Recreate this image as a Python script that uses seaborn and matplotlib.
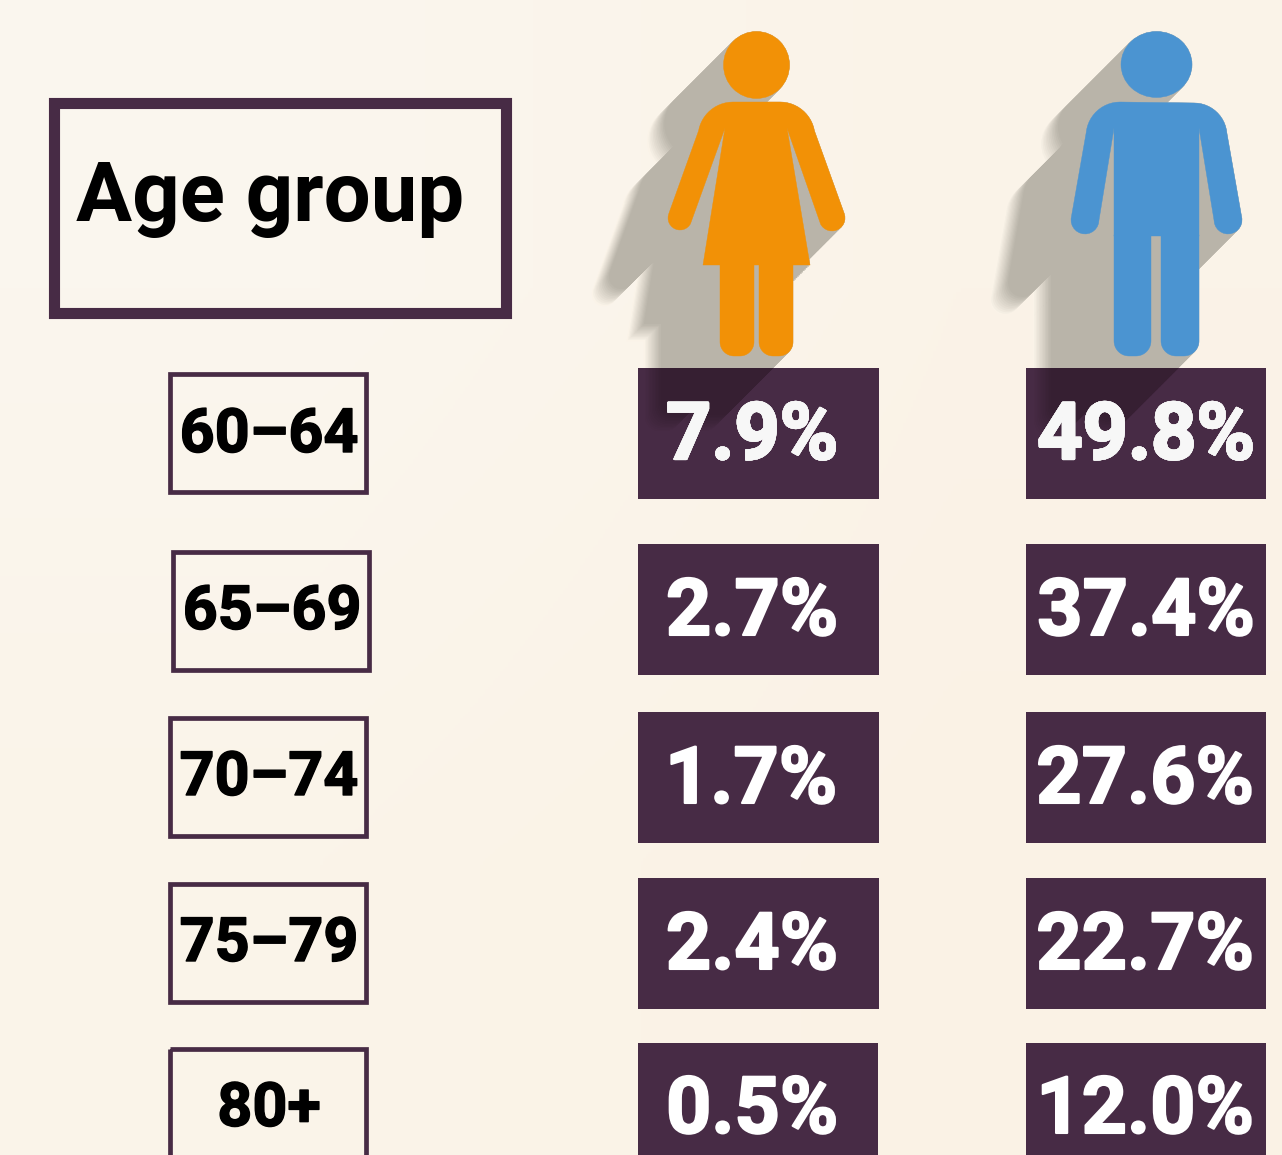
import numpy as np
import matplotlib
matplotlib.use("Agg")
import matplotlib.pyplot as plt
import matplotlib.patheffects as pe
from matplotlib.colors import to_rgb
from matplotlib.patches import Ellipse, Polygon, Rectangle
from matplotlib.path import Path
import seaborn as sns

# data
age_groups = ["60–64", "65–69", "70–74", "75–79", "80+"]
women = ["7.9%", "2.7%", "1.7%", "2.4%", "0.5%"]
men = ["49.8%", "37.4%", "27.6%", "22.7%", "12.0%"]
header = "Age group"

# colours
PLUM = "#472B45"
PLUM_DARK = "#361F32"
ORANGE = "#F29106"
BLUE = "#4B94D1"
SHADOW = "#B9B4A9"
BG = "#FAF3E8"

# layout in pixels of the picture
row_top = [368, 544, 712, 878, 1043]
row_bottom = [499, 675, 843, 1009, 1165]
text_base = [459, 635, 803, 969, 1133]
age_left = [170, 173, 170, 170, 170]
age_top = [374, 552, 718, 884, 1049]
age_base = [452, 629, 795, 961, 1126]
woman_cx = [752, 752, 751, 752, 752]
man_cx = [1146, 1146, 1145, 1145, 1145]

sns.set_theme(style="white")
plt.rcParams["font.family"] = ["Roboto", "DejaVu Sans"]

fig = plt.figure(figsize=(12.82, 11.55), dpi=100)
ax = fig.add_axes([0, 0, 1, 1])
ax.set_xlim(0, 1282)
ax.set_ylim(1155, 0)
ax.axis("off")

# very soft light corner top left
ax.imshow(np.array([[[250, 246, 238], [250, 243, 232]], [[250, 244, 233], [250, 242, 229]]], dtype=np.uint8),
          extent=(0, 1282, 1155, 0), interpolation="bilinear", aspect="auto", zorder=0)


def arc(cx, cy, r, a0, a1, n=14):
    a = np.radians(np.linspace(a0, a1, n))
    return np.column_stack([cx + r * np.cos(a), cy - r * np.sin(a)])


def leg(x0, x1, top, bottom, r=14):
    return np.vstack([[[x0, top]], arc(x0 + r, bottom - r, r, 180, 270),
                      arc(x1 - r, bottom - r, r, 270, 360), [[x1, top]]])


def woman_parts():
    body = np.vstack([arc(733, 137, 35, 170, 90), arc(780, 137, 35, 90, 10),
                      arc(832, 218, 13, 20, -150),
                      [[787, 128], [810, 265], [703, 265], [725, 128]],
                      arc(680, 218, 12, -30, -200)])
    return [("e", 756.5, 65, 33, 33.5), ("p", body),
            ("p", leg(720, 754, 260, 356)), ("p", leg(759, 793, 260, 356))]


def man_parts():
    body = np.vstack([arc(1120, 136, 34, 175, 90), arc(1194, 136, 33, 90, 5),
                      arc(1228, 220, 14, 5, -180),
                      [[1199, 128], [1199, 236], [1114, 236], [1114, 128]],
                      arc(1085, 220, 14, 0, -185)])
    return [("e", 1156.5, 64.5, 35.5, 33), ("p", body),
            ("p", leg(1114, 1151, 235, 356, 15)), ("p", leg(1161, 1199, 235, 356, 15))]


def add_parts(parts, color, dx=0.0, dy=0.0, clip=None):
    for part in parts:
        if part[0] == "e":
            item = Ellipse((part[1] + dx, part[2] + dy), part[3] * 2, part[4] * 2, fc=color, ec=color, lw=0.3)
        else:
            item = Polygon(part[1] + [dx, dy], closed=True, fc=color, ec=color, lw=0.3)
        ax.add_patch(item)
        if clip is not None:
            item.set_clip_path(clip)


def long_shadow(parts, length, base, shade, clip=None):
    # opaque copies from the far end back, the last stretch fades out
    for t in np.linspace(1, 0, 54):
        fade = min(1.0, (1 - t) / 0.22)
        color = np.array(to_rgb(base)) * (1 - fade) + np.array(to_rgb(shade)) * fade
        add_parts(parts, tuple(color), -t * length, t * length, clip)


people = [(woman_parts(), ORANGE, 638, 879, 76), (man_parts(), BLUE, 1026, 1266, 81)]

for parts, color, x0, x1, length in people:
    long_shadow(parts, length, BG, SHADOW)

# header box
ax.add_patch(Rectangle((54, 103), 451.5, 210, fc="none", ec=PLUM, lw=8))
ax.text(76, 221, header, fontweight="bold", fontsize=60,
        color="black", ha="left", va="baseline")

# age labels
for i, label in enumerate(age_groups):
    ax.add_patch(Rectangle((age_left[i], age_top[i]), 196, 118 if i < 4 else 130,
                           fc="none", ec=PLUM, lw=3.4))
    ax.text(age_left[i] + 99, age_base[i], label, fontweight="bold", fontsize=44,
            color="black", ha="center", va="baseline",
            path_effects=[pe.withStroke(linewidth=1.0, foreground="black")])

# value boxes
for i in range(5):
    for (parts, color, x0, x1, length), values, cx in zip(people, [women, men], [woman_cx, man_cx]):
        right = 878 if (i == 4 and x0 == 638) else x1
        box = Rectangle((x0, row_top[i]), right - x0, row_bottom[i] - row_top[i], fc=PLUM, ec="none")
        ax.add_patch(box)
        if i == 0:
            long_shadow(parts, length, PLUM, PLUM_DARK, clip=box)
        ax.text(cx[i], text_base[i], values[i], fontweight="bold", fontsize=57,
                color="white", ha="center", va="baseline", zorder=3,
                path_effects=[pe.withStroke(linewidth=1.5, foreground="white")])

# shadow falling over the top of the first row numbers
band_tops = [396, 404, 412, 420, 428, 436]
band_greys = ["#BDBBBD", "#C9C7C9", "#D6D4D6", "#E2E1E2", "#EDEDED", "#F7F7F7"]
for (parts, color, x0, x1, length), values, cx, edge in zip(people, [women, men], [woman_cx, man_cx], [770, 1162]):
    for top, grey in zip(band_tops, band_greys):
        bottom = top + 8
        clip_poly = Path([(x0 + 15, top), (edge - (top - 368), top),
                          (edge - (bottom - 368), bottom), (x0 + 15, bottom), (x0 + 15, top)], closed=True)
        txt = ax.text(cx[0], text_base[0], values[0], fontweight="bold", fontsize=57,
                      color=grey, ha="center", va="baseline", zorder=4,
                      path_effects=[pe.withStroke(linewidth=1.5, foreground=grey)])
        txt.set_clip_path(clip_poly, ax.transData)

# figures on top of their shadows
for parts, color, x0, x1, length in people:
    add_parts(parts, color)

fig.savefig("out.png", dpi=100)
